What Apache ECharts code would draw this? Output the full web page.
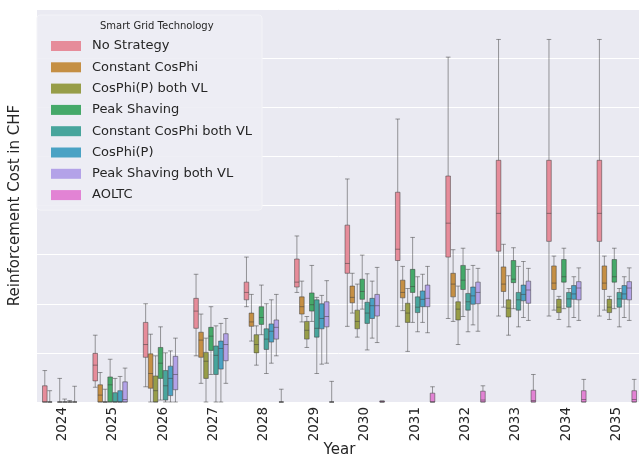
<!DOCTYPE html>
<html>
<head>
<meta charset="utf-8">
<script src="https://cdn.jsdelivr.net/npm/echarts@6/dist/echarts.min.js"></script>
<style>
html,body{margin:0;padding:0;background:#fff;}
#chart{width:639px;height:457px;}
</style>
</head>
<body>
<div id="chart"></div>
<script>
// Categories (years)
const years = ['2024','2025','2026','2027','2028','2029','2030','2031','2032','2033','2034','2035'];

// Legend / strategy names
const strategies = ['No Strategy','Constant CosPhi','CosPhi(P) both VL','Peak Shaving','Constant CosPhi both VL','CosPhi(P)','Peak Shaving both VL','AOLTC'];

// Box values per year: [lower whisker, Q1, median, Q3, upper whisker] (grid units, visible part)
const noStrategy = [
  [0,0,0,0.33,0.64],
  [0.30,0.43,0.75,0.99,1.36],
  [0.31,0.91,1.17,1.62,2.00],
  [0.94,1.50,1.85,2.11,2.60],
  [1.94,2.08,2.23,2.44,2.95],
  [2.23,2.34,2.44,2.91,3.38],
  [1.54,2.62,2.82,3.60,4.54],
  [1.54,2.88,3.11,4.27,5.76],
  [1.70,2.95,3.64,4.60,7.02],
  [1.75,3.07,3.84,4.92,7.38],
  [1.75,3.27,3.84,4.92,7.38],
  [1.75,3.27,3.84,4.92,7.38]
];
const constantCosPhi = [
  [0,0,0,0,0.23],
  [0,0,0.14,0.35,0.60],
  [0,0.28,0.58,0.98,1.38],
  [0.38,0.91,1.26,1.42,1.79],
  [1.24,1.54,1.63,1.81,2.19],
  [1.63,1.79,1.94,2.14,2.46],
  [1.81,2.02,2.13,2.36,2.62],
  [1.86,2.12,2.23,2.48,2.76],
  [1.64,2.14,2.40,2.62,3.10],
  [1.93,2.25,2.40,2.75,3.21],
  [1.87,2.29,2.42,2.77,2.97],
  [1.87,2.29,2.42,2.77,2.97]
];
const cosPhiPBothVL = [
  null,
  [0,0,0,0,0.26],
  [0,0,0.23,0.53,0.94],
  [0,0.48,0.83,1.01,1.30],
  [0.75,1.00,1.17,1.37,1.55],
  [1.11,1.28,1.46,1.64,1.74],
  [1.32,1.49,1.64,1.87,2.40],
  [1.03,1.62,1.81,2.01,2.31],
  [1.17,1.67,1.89,2.04,2.36],
  [1.36,1.73,1.91,2.08,2.57],
  [1.68,1.82,1.93,2.09,2.15],
  [1.68,1.82,1.93,2.09,2.15]
];
const peakShaving = [
  [0,0,0,0,0.48],
  [0,0,0.35,0.51,0.87],
  [0.04,0.48,0.79,1.11,1.53],
  [0.56,1.05,1.34,1.52,1.94],
  [1.37,1.58,1.72,1.94,2.38],
  [1.64,1.85,1.98,2.22,2.78],
  [1.89,2.09,2.25,2.50,2.99],
  [1.62,2.23,2.35,2.70,3.35],
  [1.74,2.29,2.48,2.78,3.13],
  [1.90,2.43,2.50,2.88,3.14],
  [1.90,2.44,2.55,2.90,3.13],
  [1.90,2.44,2.55,2.90,3.13]
];
const constantCosPhiBothVL = [
  [0,0,0,0,0.06],
  [0,0,0,0.19,0.48],
  [0,0.04,0.33,0.64,1.00],
  [0,0.56,0.95,1.14,1.55],
  [0.58,1.07,1.28,1.49,2.00],
  [0.58,1.32,1.50,2.08,2.13],
  [1.06,1.60,1.81,2.03,2.61],
  [1.43,1.82,1.93,2.14,2.55],
  [1.43,1.87,2.04,2.21,2.70],
  [1.53,1.87,2.08,2.23,2.76],
  [1.53,1.93,2.10,2.23,2.31],
  [1.53,1.93,2.10,2.23,2.31]
];
const cosPhiP = [
  [0,0,0,0,0.03],
  [0,0,0,0.23,0.52],
  [0,0.13,0.48,0.73,1.04],
  [0,0.67,1.09,1.24,1.60],
  [0.79,1.22,1.44,1.59,2.08],
  [0.77,1.49,1.70,2.00,2.17],
  [1.30,1.70,1.96,2.11,2.46],
  [1.62,1.94,2.09,2.26,2.60],
  [1.57,1.99,2.16,2.34,2.78],
  [1.72,2.06,2.19,2.38,2.86],
  [1.72,2.09,2.20,2.37,2.55],
  [1.72,2.09,2.20,2.37,2.55]
];
const peakShavingBothVL = [
  [0,0,0,0,0.32],
  [0,0,0.05,0.41,0.69],
  [0,0.25,0.56,0.93,1.30],
  [0.38,0.84,1.17,1.39,1.70],
  [0.94,1.28,1.52,1.67,2.19],
  [0.79,1.53,1.74,2.04,2.47],
  [1.21,1.75,1.96,2.19,2.74],
  [1.41,1.94,2.11,2.38,2.76],
  [1.44,2.00,2.23,2.44,2.72],
  [1.66,2.01,2.28,2.46,2.72],
  [1.66,2.08,2.32,2.45,2.73],
  [1.66,2.08,2.32,2.45,2.73]
];
const aoltc = [
  null,
  null,
  null,
  null,
  [0,0,0,0,0.26],
  [0,0,0,0,0.42],
  [0,0,0,0.02,0.02],
  [0,0,0,0.18,0.31],
  [0,0,0.04,0.22,0.33],
  [0,0,0.03,0.24,0.56],
  [0,0,0.05,0.23,0.46],
  [0,0,0.05,0.23,0.46]
];

const seriesValues = [noStrategy, constantCosPhi, cosPhiPBothVL, peakShaving, constantCosPhiBothVL, cosPhiP, peakShavingBothVL, aoltc];
const colors = ['#e68c9a','#c58f44','#979d48','#45a969','#48a59c','#4aa2c4','#b3a2e8','#e283d4'];

const FONT = 'DejaVu Sans';
const chart = echarts.init(document.getElementById('chart'), null, {renderer:'canvas'});

const series = strategies.map((name, i) => ({
  name: name,
  type: 'boxplot',
  data: seriesValues[i].map(d => d === null ? ['-','-','-','-','-'] : d),
  boxWidth: [4.6, 4.6],
  itemStyle: {
    color: colors[i],
    borderColor: 'rgba(60,60,60,0.5)',
    borderWidth: 1
  },
  emphasis: {disabled: true},
  silent: true,
  animation: false
}));

chart.setOption({
  backgroundColor: '#ffffff',
  animation: false,
  color: colors,
  grid: {
    left: 37, top: 9, width: 605, height: 393,
    outerBoundsMode: 'none',
    containLabel: false,
    show: true, backgroundColor: '#eaeaf2', borderWidth: 0
  },
  xAxis: {
    type: 'category',
    data: years,
    boundaryGap: true,
    axisLine: {show: false},
    axisTick: {show: false},
    splitLine: {show: false},
    axisLabel: {rotate: 90, margin: 5, fontSize: 13.5, color: '#262626', fontFamily: FONT},
    name: 'Year',
    nameLocation: 'middle',
    nameGap: 41,
    nameMoveOverlap: false,
    nameTextStyle: {fontSize: 15, color: '#262626', fontFamily: FONT}
  },
  yAxis: {
    type: 'value',
    min: 0, max: 8, interval: 1,
    axisLine: {show: false},
    axisTick: {show: false},
    axisLabel: {show: false},
    splitLine: {show: true, lineStyle: {color: '#ffffff', width: 1}},
    name: 'Reinforcement Cost in CHF',
    nameLocation: 'middle',
    nameRotate: 90,
    nameGap: 14,
    nameMoveOverlap: false,
    nameTextStyle: {fontSize: 15, color: '#262626', fontFamily: FONT}
  },
  legend: {
    data: strategies.map((n, i) => ({name: n, icon: 'rect', itemStyle: {color: colors[i], borderWidth: 0, opacity: 1}})),
    orient: 'vertical',
    left: 37,
    top: 15,
    padding: [24, 10, 8, 14],
    itemWidth: 30,
    itemHeight: 10,
    itemGap: 7.3,
    icon: 'rect',
    selectedMode: false,
    backgroundColor: 'rgba(237,237,244,0.9)',
    borderColor: '#f3f3f7',
    borderWidth: 1,
    borderRadius: 3,
    itemStyle: {borderWidth: 0},
    textStyle: {fontSize: 13, lineHeight: 14, color: '#262626', fontFamily: FONT, padding: [0,0,0,6]}
  },
  graphic: [{
    type: 'text',
    left: 100, top: 21,
    z: 100, zlevel: 0,
    style: {text: 'Smart Grid Technology', fontSize: 10, fill: '#262626', fontFamily: FONT}
  }],
  series: series
});
</script>
</body>
</html>
